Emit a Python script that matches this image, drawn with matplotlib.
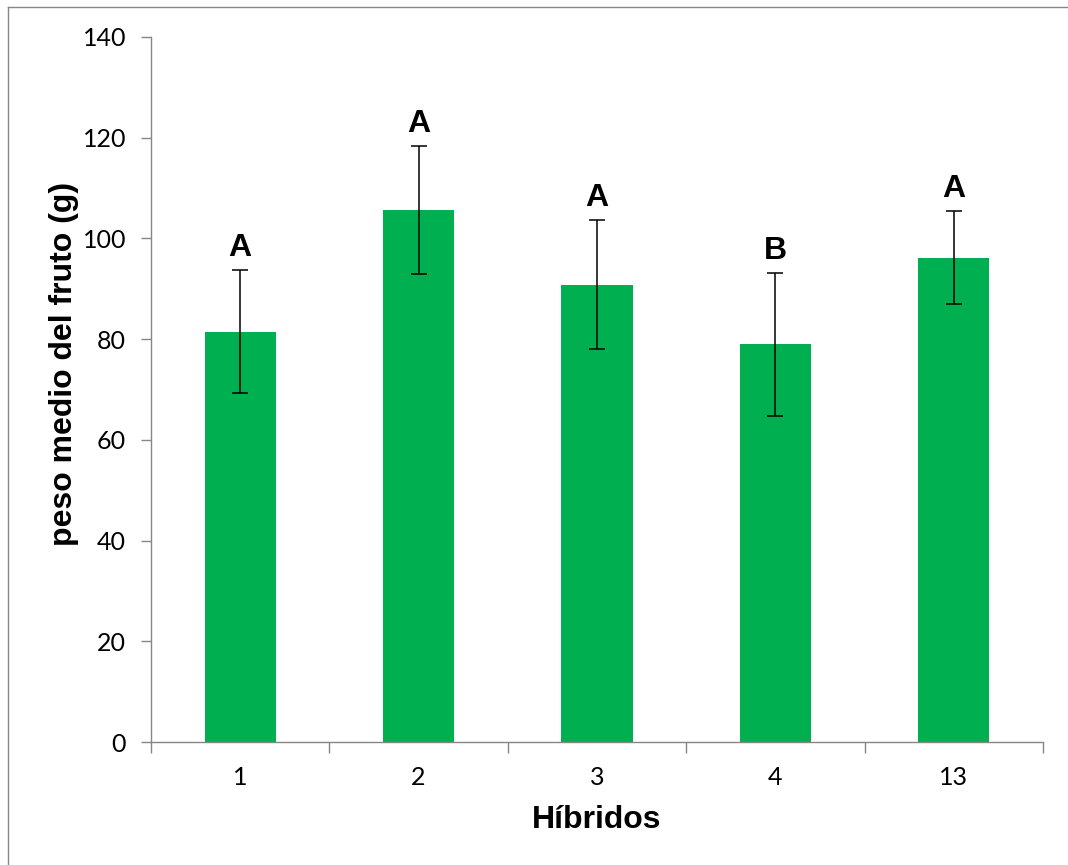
import matplotlib
matplotlib.use("Agg")
import matplotlib.pyplot as plt
from matplotlib.lines import Line2D
import numpy as np

hibridos = ["1", "2", "3", "4", "13"]
peso = [81.5, 105.6, 90.8, 79.0, 96.2]
error = [12.2, 12.7, 12.8, 14.2, 9.3]
letras = ["A", "A", "A", "B", "A"]

green = "#00B050"
axis_gray = "#868686"

fig = plt.figure(figsize=(10.68, 8.65), dpi=100)
ax = fig.add_axes([151 / 1068, 1 - 742 / 865, (1043 - 151) / 1068, (742 - 37) / 865])

x = np.arange(len(hibridos))
ax.bar(x, peso, width=0.40, color=green, zorder=2)
ax.errorbar(x, peso, yerr=error, fmt="none", ecolor="black",
            elinewidth=1.1, capsize=6, capthick=1.1, zorder=3)

for xi, p, e, l in zip(x, peso, error, letras):
    ax.annotate(l, (xi, p + e), xytext=(0, 5), textcoords="offset points",
                ha="center", va="bottom", fontsize=23, fontweight="bold",
                family="Liberation Sans")

ax.set_xlim(-0.5, len(hibridos) - 0.5)
ax.set_ylim(0, 140)
ax.set_yticks(np.arange(0, 141, 20))

# category boundaries as ticks, labels centred on the bars
ax.set_xticks(np.arange(-0.5, len(hibridos), 1.0))
ax.set_xticklabels([])
ax.set_xticks(x, minor=True)
ax.set_xticklabels(hibridos, minor=True)
ax.tick_params(axis="x", which="major", length=8, width=1, color=axis_gray, direction="out")
ax.tick_params(axis="x", which="minor", length=0, pad=17, labelsize=18)
ax.tick_params(axis="y", length=7, width=1, color=axis_gray, pad=11, labelsize=18)
for lab in ax.get_xticklabels(minor=True) + ax.get_yticklabels():
    lab.set_family("Lato")

for side in ["top", "right"]:
    ax.spines[side].set_visible(False)
for side in ["left", "bottom"]:
    ax.spines[side].set_color(axis_gray)
    ax.spines[side].set_linewidth(1)

ax.set_xlabel("Híbridos", fontsize=23, fontweight="bold", family="Liberation Sans", labelpad=12)
fig.text(64 / 1068, 1 - 364 / 865, "peso medio del fruto (g)", rotation=90,
         ha="center", va="center", fontsize=23, fontweight="bold", family="Liberation Sans")

# partial frame of the original chart area
fig.add_artist(Line2D([8 / 1068, 1], [1 - 7 / 865, 1 - 7 / 865], color=axis_gray, lw=1))
fig.add_artist(Line2D([8 / 1068, 8 / 1068], [0, 1 - 7 / 865], color=axis_gray, lw=1))

fig.savefig("out.png", dpi=100)
